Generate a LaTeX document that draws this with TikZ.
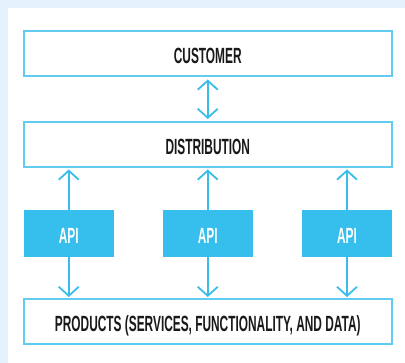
\documentclass[tikz,border=0pt]{standalone}
\usepackage{fontspec}
\newfontfamily\condfont[FakeStretch=0.54]{Liberation Sans Bold}
\usetikzlibrary{arrows.meta}
\definecolor{bgblue}{HTML}{E5F1FB}
\definecolor{boxline}{HTML}{62CBF2}
\definecolor{apifill}{HTML}{36BEEC}
\definecolor{arrowcol}{HTML}{3ABDEB}
\tikzset{
  lbl/.style={font=\condfont\fontsize{22}{22}\selectfont, text height=19.5pt, text depth=0pt},
  wide/.style={lbl, draw=boxline, line width=2pt, fill=white, minimum width=368.5pt, minimum height=45pt, inner sep=0pt, text=black!90},
  apibox/.style={lbl, fill=apifill, minimum width=90.5pt, minimum height=47pt, inner sep=0pt, text=white},
  conn/.style={draw=arrowcol, line width=1.8pt},
  barb/.tip={Straight Barb[length=9pt, width=20pt]}
}
\begin{document}
\begin{tikzpicture}[x=1pt,y=-1pt]
\useasboundingbox (0,0) rectangle (405,363);
\fill[bgblue] (0,0) rectangle (405,363);
\fill[white] (8,8) rectangle (405,363);
\node[wide] (cust) at (207.75,54) {CUSTOMER};
\node[wide] (dist) at (207.75,144.5) {DISTRIBUTION};
\node[apibox] (api1) at (68.75,233.5) {API};
\node[apibox] (api2) at (207.75,233.5) {API};
\node[apibox] (api3) at (347,233.5) {API};
\node[wide] (prod) at (207.75,322) {PRODUCTS (SERVICES, FUNCTIONALITY, AND DATA)};
\draw[conn, barb-barb, shorten <=2pt, shorten >=2pt] (cust.south) -- (dist.north);
\foreach \a in {api1,api2,api3}{
  \draw[conn, -barb, shorten >=1.5pt] (\a.north) -- (\a.north |- dist.south);
  \draw[conn, -barb, shorten >=1.5pt] (\a.south) -- (\a.south |- prod.north);
}
\end{tikzpicture}
\end{document}
